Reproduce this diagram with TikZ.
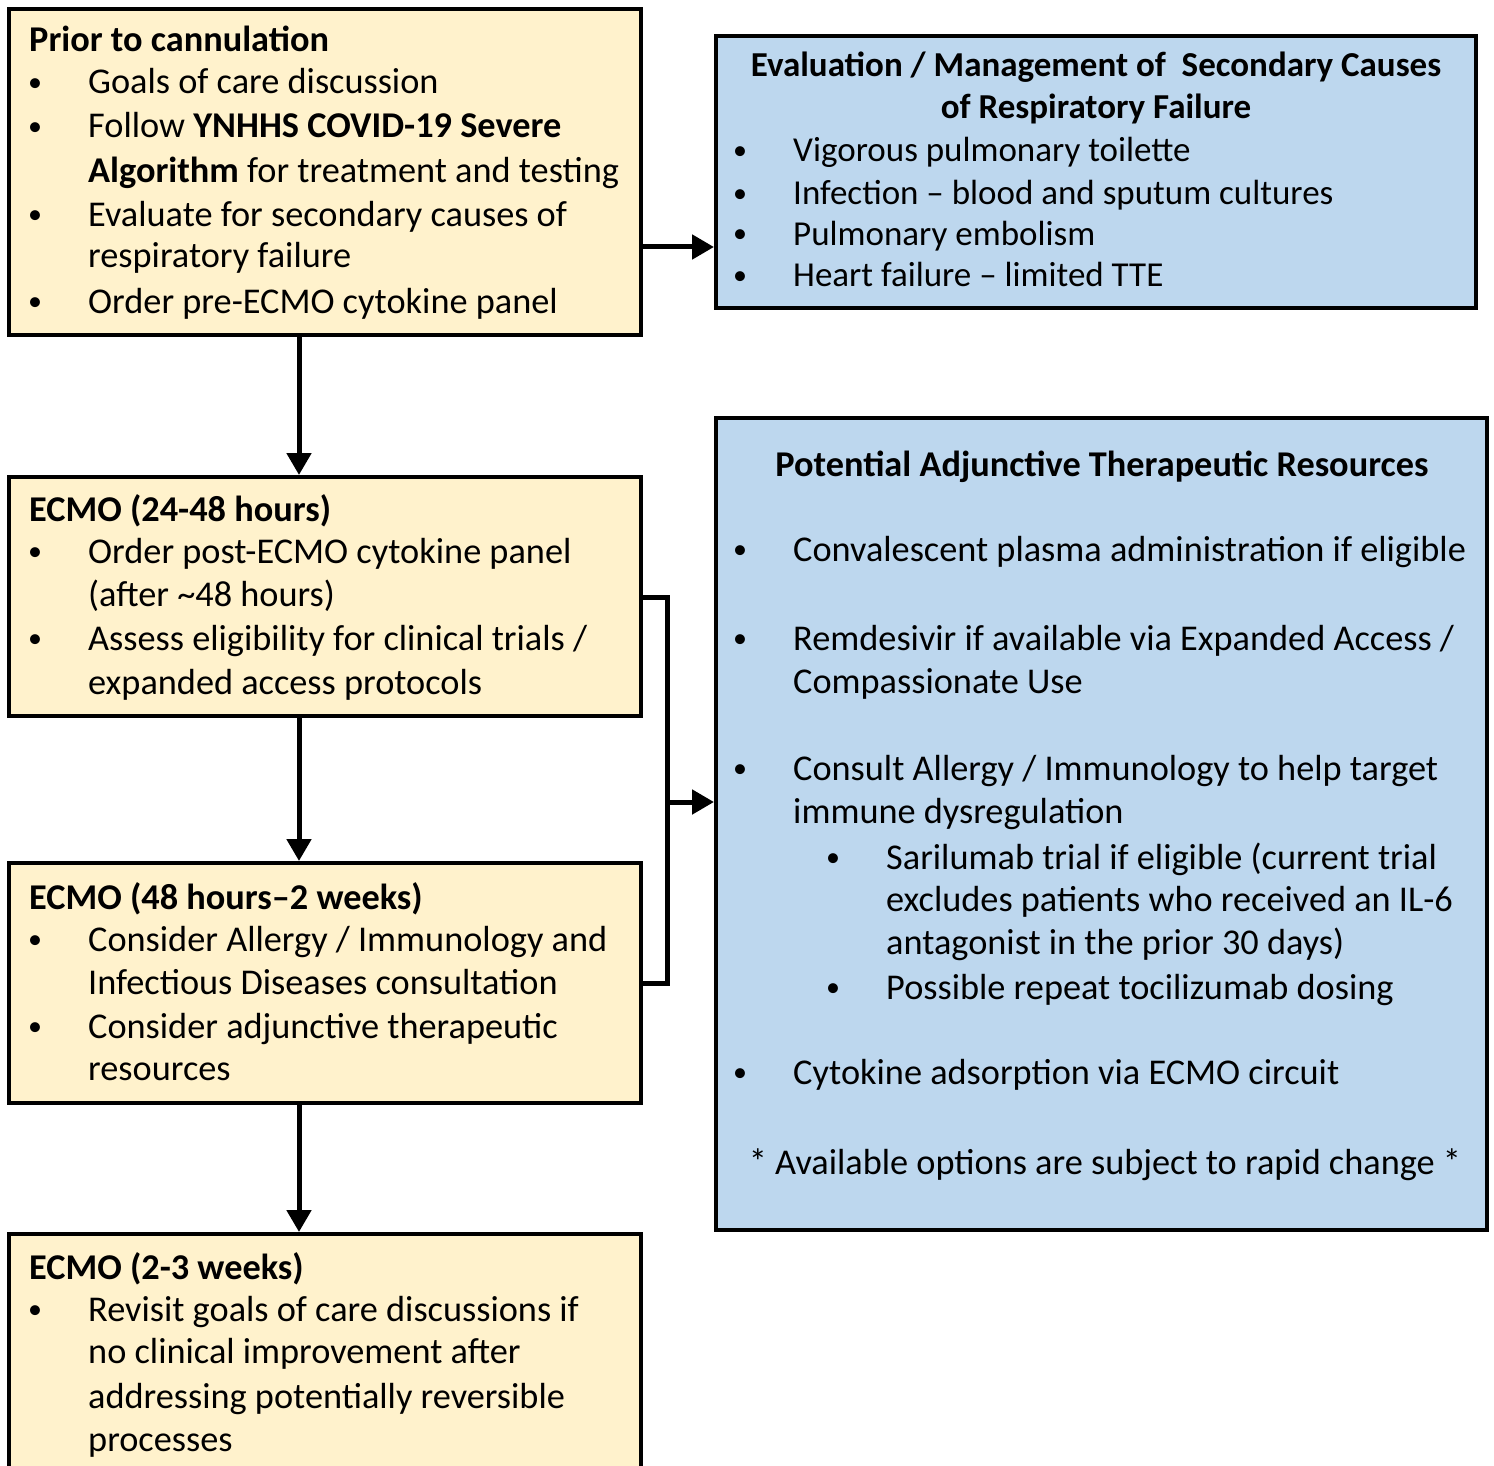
\documentclass[tikz,border=0pt]{standalone}
\usepackage{fontspec}
\setmainfont{Carlito}
\usetikzlibrary{arrows.meta}
\definecolor{ybox}{HTML}{FFF2CC}
\definecolor{bbox}{HTML}{BDD7EE}
\tikzset{
  ybx/.style={draw=black, line width=4pt, fill=ybox, inner sep=0pt, outer sep=2pt},
  bbx/.style={draw=black, line width=4pt, fill=bbox, inner sep=0pt, outer sep=2pt},
  txt/.style={anchor=base west, inner sep=0pt, font=\fontsize{36.3}{43.5}\selectfont},
  ctxt/.style={anchor=base, inner sep=0pt, font=\fontsize{36.3}{43.5}\selectfont},
  small/.style={font=\fontsize{35}{43.5}\selectfont},
  bul/.style={anchor=base, inner sep=0pt, font=\fontsize{28}{43.5}\selectfont},
  conn/.style={line width=5pt, -{Triangle[length=22pt,width=24pt]}},
  brk/.style={line width=5pt},
}
\newcommand{\TL}[4]{\node[txt] (#1) at (#2,-#3) {#4};}
\newcommand{\SL}[4]{\node[txt,small] (#1) at (#2,-#3) {#4};}
\newcommand{\CL}[4]{\node[ctxt] (#1) at (#2,-#3) {#4};}
\newcommand{\BU}[3]{\node[bul] (#1) at (#2,-#3) {\raisebox{2.3pt}{•}};}
\begin{document}
\begin{tikzpicture}[x=1pt,y=1pt]
\useasboundingbox (0,0) rectangle (1494,-1466);
\clip (0,0) rectangle (1494,-1466);
% boxes
\node[ybx, minimum width=632pt, minimum height=326pt] (b1) at (325,-172) {};
\node[ybx, minimum width=632pt, minimum height=239pt] (b2) at (325,-596.5) {};
\node[ybx, minimum width=632pt, minimum height=240pt] (b3) at (325,-983) {};
\node[ybx, minimum width=632pt, minimum height=256pt] (b4) at (325,-1362) {};
\node[bbx, minimum width=760pt, minimum height=272pt] (ev) at (1096,-172) {};
\node[bbx, minimum width=771pt, minimum height=812pt] (ad) at (1101.5,-824) {};
% box 1
\TL{t11}{29}{52}{\textbf{Prior to cannulation}}
\BU{u11}{35}{94}\TL{t12}{88}{94}{Goals of care discussion}
\BU{u12}{35}{138}\TL{t13}{88}{138}{Follow \textbf{YNHHS COVID-19 Severe}}
\TL{t14}{88}{183}{\textbf{Algorithm} for treatment and testing}
\BU{u13}{35}{226}\TL{t15}{88}{226}{Evaluate for secondary causes of}
\TL{t16}{88}{268}{respiratory failure}
\BU{u14}{35}{313}\TL{t17}{88}{313}{Order pre-ECMO cytokine panel}
% box 2
\TL{t21}{29}{521}{\textbf{ECMO (24-48 hours)}}
\BU{u21}{35}{563}\TL{t22}{88}{563}{Order post-ECMO cytokine panel}
\TL{t23}{88}{606}{(after \textasciitilde48 hours)}
\BU{u22}{35}{650}\TL{t24}{88}{650}{Assess eligibility for clinical trials /}
\TL{t25}{88}{694}{expanded access protocols}
% box 3
\TL{t31}{29}{909}{\textbf{ECMO (48 hours–2 weeks)}}
\BU{u31}{35}{951}\TL{t32}{88}{951}{Consider Allergy / Immunology and}
\TL{t33}{88}{994}{Infectious Diseases consultation}
\BU{u32}{35}{1038}\TL{t34}{88}{1038}{Consider adjunctive therapeutic}
\TL{t35}{88}{1080}{resources}
% box 4
\TL{t41}{29}{1279}{\textbf{ECMO (2-3 weeks)}}
\BU{u41}{35}{1321}\TL{t42}{88}{1321}{Revisit goals of care discussions if}
\TL{t43}{88}{1363}{no clinical improvement after}
\TL{t44}{88}{1408}{addressing potentially reversible}
\TL{t45}{88}{1451}{processes}
% evaluation box
\node[ctxt,small] (e1) at (1096,-77) {\textbf{Evaluation / Management of\ \ Secondary Causes}};
\node[ctxt,small] (e2) at (1096,-119) {\textbf{of Respiratory Failure}};
\BU{v1}{740}{162}\SL{e3}{793}{162}{Vigorous pulmonary toilette}
\BU{v2}{740}{205}\SL{e4}{793}{205}{Infection – blood and sputum cultures}
\BU{v3}{740}{245}\SL{e5}{793}{245}{Pulmonary embolism}
\BU{v4}{740}{287}\SL{e6}{793}{287}{Heart failure – limited TTE}
% adjunctive box
\CL{a1}{1102}{476}{\textbf{Potential Adjunctive Therapeutic Resources}}
\BU{w1}{740}{561}\TL{a2}{793}{561}{Convalescent plasma administration if eligible}
\BU{w2}{740}{650}\TL{a3}{793}{650}{Remdesivir if available via Expanded Access /}
\TL{a4}{793}{693}{Compassionate Use}
\BU{w3}{740}{780}\TL{a5}{793}{780}{Consult Allergy / Immunology to help target}
\TL{a6}{793}{823}{immune dysregulation}
\BU{w4}{833}{869}\TL{a7}{886}{869}{Sarilumab trial if eligible (current trial}
\TL{a8}{886}{911}{excludes patients who received an IL-6}
\TL{a9}{886}{954}{antagonist in the prior 30 days)}
\BU{w5}{833}{999}\TL{a10}{886}{999}{Possible repeat tocilizumab dosing}
\BU{w6}{740}{1084}\TL{a11}{793}{1084}{Cytokine adsorption via ECMO circuit}
\CL{a12}{1105}{1174}{* Available options are subject to rapid change *}
% connectors
\coordinate (ax) at (299,0);
\coordinate (ay) at (0,-247);
\draw[conn] (b1.south -| ax) -- (b2.north -| ax);
\draw[conn] (b2.south -| ax) -- (b3.north -| ax);
\draw[conn] (b3.south -| ax) -- (b4.north -| ax);
\draw[conn] (b1.east |- ay) -- (ev.west |- ay);
\coordinate (k1) at (667,-597);
\coordinate (k2) at (667,-983);
\coordinate (k3) at (667,-802);
\draw[brk] (b2.east |- k1) -- (k1) -- (k2) -- (b3.east |- k2);
\draw[conn] (k3) -- (ad.west |- k3);
\end{tikzpicture}
\end{document}
